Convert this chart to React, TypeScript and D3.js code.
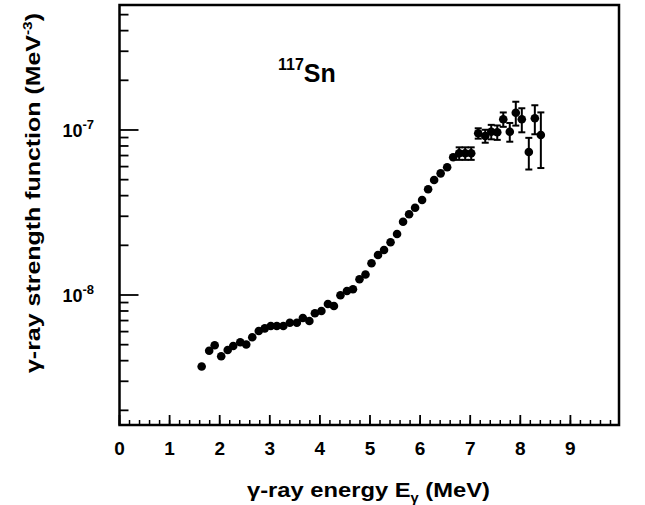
import React from "react";
import * as d3 from "d3";

// gamma-ray strength function of 117Sn
const energy = [
  1.64, 1.79, 1.9, 2.03, 2.16, 2.27, 2.41, 2.53, 2.65, 2.78,
  2.9, 3.02, 3.14, 3.27, 3.4, 3.54, 3.66, 3.79, 3.9, 4.03,
  4.16, 4.28, 4.41, 4.54, 4.66, 4.79, 4.91, 5.03, 5.16, 5.28,
  5.41, 5.54, 5.66, 5.78, 5.9, 6.04, 6.16, 6.28, 6.41, 6.54,
  6.66, 6.78, 6.9, 7.02, 7.16, 7.3, 7.42, 7.54, 7.66, 7.79,
  7.91, 8.03, 8.17, 8.29, 8.41,
];
const strength = [
  3.69e-9, 4.59e-9, 4.96e-9, 4.25e-9, 4.64e-9, 4.91e-9, 5.17e-9, 5.01e-9, 5.54e-9, 6.05e-9,
  6.28e-9, 6.49e-9, 6.49e-9, 6.49e-9, 6.79e-9, 6.79e-9, 7.25e-9, 6.96e-9, 7.75e-9, 8.0e-9,
  8.82e-9, 8.58e-9, 9.96e-9, 1.057e-8, 1.083e-8, 1.245e-8, 1.331e-8, 1.556e-8, 1.748e-8, 1.874e-8,
  2.087e-8, 2.343e-8, 2.781e-8, 3.084e-8, 3.382e-8, 3.765e-8, 4.37e-8, 4.98e-8, 5.46e-8, 5.94e-8,
  6.83e-8, 7.22e-8, 7.22e-8, 7.22e-8, 9.55e-8, 9.2e-8, 9.76e-8, 9.68e-8, 1.161e-7, 9.76e-8,
  1.273e-7, 1.161e-7, 7.36e-8, 1.177e-7, 9.33e-8,
];
const strengthErr = [
  1.1e-10, 1.4e-10, 1.5e-10, 1.3e-10, 1.4e-10, 1.5e-10, 1.6e-10, 1.5e-10, 1.7e-10, 1.8e-10,
  1.9e-10, 1.9e-10, 1.9e-10, 2.0e-10, 2.0e-10, 2.1e-10, 2.2e-10, 2.2e-10, 2.4e-10, 2.5e-10,
  2.7e-10, 2.7e-10, 3.1e-10, 3.3e-10, 3.4e-10, 4.0e-10, 4.3e-10, 5.0e-10, 5.8e-10, 6.3e-10,
  7.2e-10, 8.2e-10, 1.0e-9, 1.1e-9, 1.3e-9, 1.5e-9, 1.8e-9, 2.1e-9, 2.4e-9, 2.8e-9,
  3.4e-9, 6.3e-9, 6.3e-9, 6.3e-9, 6.9e-9, 8.3e-9, 9.8e-9, 9.7e-9, 1.16e-8, 1.27e-8,
  2.1e-8, 1.93e-8, 1.6e-8, 2.35e-8, 3.45e-8,
];
const xTickLabels = ["0", "1", "2", "3", "4", "5", "6", "7", "8", "9"];
const yDecades = [-8, -7];

const W = 645;
const H = 505;
const left = 119.5;
const right = 619;
const top = 5;
const bottom = 425;
const font = "'Liberation Sans', Arial, Helvetica, sans-serif";

export default function App() {
  const x = d3.scaleLinear().domain([0, 9.97]).range([left, right]);
  const y = d3.scaleLog().domain([1.63e-9, 5.72e-7]).range([bottom, top]);

  const xMinor = d3.range(0, 50).map((i) => i * 0.2).filter((v) => x(v) < right - 1);
  const yMinor: number[] = [];
  [-9, -8, -7].forEach((p) => {
    for (let m = 2; m <= 9; m++) {
      const v = m * Math.pow(10, p);
      if (y(v) > top + 1 && y(v) < bottom - 1) yMinor.push(v);
    }
  });

  const r = 4.3;

  return (
    <svg width={W} height={H} style={{ position: "absolute", left: 0, top: 0, background: "#fff" }} fontFamily={font}>
      {/* minor ticks */}
      {xMinor.map((v, i) => (
        <line key={"xm" + i} x1={x(v)} x2={x(v)} y1={bottom} y2={bottom - 5} stroke="#000" strokeWidth={1.5} />
      ))}
      {xTickLabels.map((t, i) => (
        <g key={"xt" + i}>
          <line x1={x(+t)} x2={x(+t)} y1={bottom} y2={bottom - 10} stroke="#000" strokeWidth={1.8} />
          <text x={x(+t)} y={455} textAnchor="middle" fontSize={19} fontWeight="bold">{t}</text>
        </g>
      ))}
      {yMinor.map((v, i) => (
        <line key={"ym" + i} x1={left} x2={left + 9} y1={y(v)} y2={y(v)} stroke="#000" strokeWidth={1.8} />
      ))}
      {yDecades.map((p) => {
        const v = Math.pow(10, p);
        return (
          <g key={"yt" + p}>
            <line x1={left} x2={left + 19} y1={y(v)} y2={y(v)} stroke="#000" strokeWidth={1.8} />
            <text x={94} y={y(v) + 7} textAnchor="end" fontSize={18} fontWeight="bold">
              10<tspan dy={-8} fontSize={13}>{String(p)}</tspan>
            </text>
          </g>
        );
      })}

      {/* frame */}
      <rect x={left} y={top} width={right - left} height={bottom - top} fill="none" stroke="#000" strokeWidth={2.5} />

      {/* error bars */}
      {energy.map((e, i) => {
        const cy = y(strength[i]);
        const yHi = y(strength[i] + strengthErr[i]);
        const yLo = y(strength[i] - strengthErr[i]);
        if (cy - yHi <= r + 0.5 && yLo - cy <= r + 0.5) return null;
        const cx = x(e);
        return (
          <g key={"eb" + i} stroke="#000" strokeWidth={2}>
            <line x1={cx} x2={cx} y1={yHi} y2={yLo} />
            <line x1={cx - 3.5} x2={cx + 3.5} y1={yHi} y2={yHi} />
            <line x1={cx - 3.5} x2={cx + 3.5} y1={yLo} y2={yLo} />
          </g>
        );
      })}
      {/* points */}
      {energy.map((e, i) => (
        <circle key={"p" + i} cx={x(e)} cy={y(strength[i])} r={r} fill="#000" />
      ))}

      {/* nucleus label */}
      <text x={278} y={82} fontSize={25} fontWeight="bold">
        <tspan fontSize={16} dy={-12}>117</tspan>
        <tspan dy={12}>Sn</tspan>
      </text>

      {/* axis titles */}
      <text x={247} y={497} fontSize={21} fontWeight="bold" textLength={243} lengthAdjust="spacingAndGlyphs">
        γ-ray energy E<tspan fontSize={13} dy={5}>γ</tspan>
        <tspan dy={-5}> (MeV)</tspan>
      </text>
      <text transform="translate(40,373) rotate(-90)" fontSize={21} fontWeight="bold" textLength={360} lengthAdjust="spacingAndGlyphs">
        γ-ray strength function (MeV<tspan fontSize={13} dy={-8}>-3</tspan>
        <tspan dy={8}>)</tspan>
      </text>
    </svg>
  );
}
